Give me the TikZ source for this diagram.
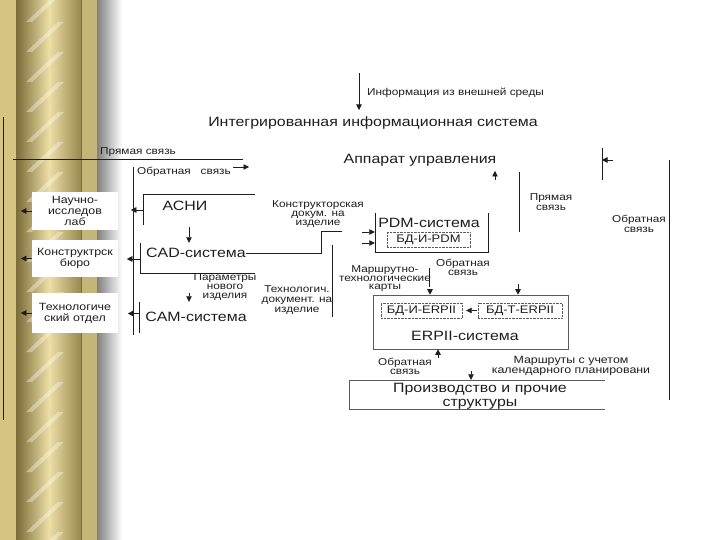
\documentclass[tikz,border=0pt]{standalone}
\usepackage{fontspec}
\setmainfont{Liberation Sans}[FakeStretch=1.18]
\usepackage{tikz}
\usetikzlibrary{arrows.meta, positioning}
\definecolor{gold}{HTML}{D6C582}
\definecolor{golddark}{HTML}{7E6E3C}
\definecolor{goldlight}{HTML}{ECDEA4}
\definecolor{ink}{HTML}{1E1E1E}
\definecolor{frame}{HTML}{5A5A5A}

\begin{document}
\begin{tikzpicture}[x=1pt, y=-1pt,
  sys/.style={font=\fontsize{13.5}{15}\selectfont, inner sep=0pt, text=ink},
  lbl/.style={font=\fontsize{10}{10}\selectfont, align=center, inner sep=0pt, text=ink},
  dept/.style={fill=white, minimum width=86pt, align=center, inner sep=0pt,
    font=\fontsize{10.5}{11}\selectfont, text=ink},
  box/.style={minimum width=#1, inner sep=0pt},
  dbbox/.style={draw=frame, densely dotted, minimum height=15pt, inner sep=0pt,
    font=\fontsize{11}{12}\selectfont, text=ink},
  ln/.style={line width=0.6pt, draw=ink},
  frameln/.style={line width=0.6pt, draw=frame},
  arr/.style={ln, -{Triangle[length=5.5pt, width=5.5pt]}}]
\useasboundingbox (0,0) rectangle (720,540);
\fill[white] (0,0) rectangle (720,540);

% gold column at the left
\fill[gold] (0,0) rectangle (17,540);
\shade[left color=golddark, right color=golddark!70!gold, middle color=goldlight] (17,0) rectangle (81,540);
\begin{scope}
  \clip (17,0) rectangle (81,540);
  \foreach \yy in {0,30,...,570}
    \fill[white, opacity=0.35] (26,\yy+22) -- (32,\yy+22) -- (64,\yy-8) -- (58,\yy-8) -- cycle;
\end{scope}
\fill[gold!92!black] (82,0) rectangle (97,540);
\draw[golddark, line width=1pt] (16,0) -- (16,540) (81.5,0) -- (81.5,540);
\shade[left color=black!50, right color=white] (97,0) rectangle (122,540);

% free ends of the connectors
\coordinate (lt) at (3,117);      \coordinate (lb) at (3,420);
\coordinate (pryamL) at (13,159); \coordinate (pryamR) at (243,159);
\coordinate (obrT) at (133,167);  \coordinate (obrB) at (133,335);
\coordinate (fbA) at (233,167);   \coordinate (fbB) at (249,167);
\coordinate (infoT) at (359,73);  \coordinate (infoB) at (359,110);
\coordinate (asniD) at (189,227); \coordinate (parD) at (189,293);
\coordinate (kdA) at (321,251);   \coordinate (kdB) at (342,231);
\coordinate (tdT) at (332,245);   \coordinate (tdB) at (332,317);
\coordinate (pa1) at (362,232);   \coordinate (pa2) at (362,243);
\coordinate (mkT) at (429,268);   \coordinate (mkB) at (429,287);
\coordinate (mkD) at (430,293);
\coordinate (upA) at (495,180);   \coordinate (upB) at (495,171);
\coordinate (psT) at (519,172);   \coordinate (psB) at (519,232);
\coordinate (psD) at (518,284);
\coordinate (rfT) at (602,148);   \coordinate (rfB) at (602,180);
\coordinate (rfA) at (613,160);
\coordinate (roT) at (669,160);   \coordinate (roB) at (669,400);
\coordinate (erpU) at (438,358);  \coordinate (prD) at (471,371);

% titles
\node[lbl, anchor=west] (info) at (367,93) {Информация из внешней среды};
\node[sys] (iis) at (373,123) {Интегрированная информационная система};
\node[sys] (apparat) at (420,160) {Аппарат управления};
\node[lbl] (pryam1) at (138,152) {Прямая связь};
\node[lbl, anchor=west] (obr1) at (137,172) {Обратная \ \ связь};

% departments
\node[dept, minimum height=38pt] (nil) at (75,211) {Научно-\\исследов\\лаб};
\node[dept, minimum height=37pt] (kb) at (75,258.5) {Конструктрск\\бюро};
\node[dept, minimum height=40pt] (tehotd) at (75,313) {Технологиче\\ский отдел};

% systems
\node[box=112pt, minimum height=30pt] (asnibox) at (199,210) {};
\node[sys] (asni) at (185,206) {АСНИ};
\node[box=115pt, minimum height=30pt] (cadbox) at (197.5,258) {};
\node[sys] (cad) at (196,253) {CAD-система};
\node[box=116pt, minimum height=31pt] (cambox) at (197,317.5) {};
\node[sys] (cam) at (196,317) {CAM-система};
\node[lbl, font=\fontsize{10}{9}\selectfont] (params) at (225,287) {Параметры\\нового\\изделия};
\node[lbl, font=\fontsize{10}{9}\selectfont] (kdoc) at (318,214) {Конструкторская\\докум. на\\изделие};
\node[lbl] (tdoc) at (297,300) {Технологич.\\документ. на\\изделие};

\node[box=113pt, minimum height=39pt] (pdmbox) at (431.5,232.5) {};
\node[sys] (pdm) at (429,223) {PDM-система};
\node[dbbox, minimum width=83pt] (bdpdm) at (428.5,240) {БД-И-PDM};
\node[lbl, font=\fontsize{10}{9}\selectfont] (obr2) at (463,267) {Обратная\\связь};
\node[lbl, font=\fontsize{10}{8.5}\selectfont] (mtk) at (385,279) {Маршрутно-\\технологические\\карты};

\node[draw=frame, line width=0.6pt, box=195pt, minimum height=54pt] (erp) at (470.5,322) {};
\node[dbbox, minimum width=81pt] (bdi) at (421.5,310.5) {БД-И-ERPII};
\node[dbbox, minimum width=84pt] (bdt) at (520,310.5) {БД-Т-ERPII};
\node[sys] (erptxt) at (465,336) {ERPII-система};
\node[lbl, font=\fontsize{10}{9}\selectfont] (obr4) at (405,366) {Обратная\\связь};
\node[lbl, font=\fontsize{10.5}{10}\selectfont] (route) at (571,366) {Маршруты с учетом\\календарного планировани};
\node[lbl] (pryam2) at (551,202) {Прямая\\связь};
\node[lbl] (obr3) at (639,224) {Обратная\\связь};

\node[box=256pt, minimum height=29pt] (prodbox) at (477,394.5) {};
\node[sys, align=center, font=\fontsize{13.5}{14}\selectfont] (prod) at (480,396) {Производство и прочие\\структуры};

% frames open on some sides
\draw[ln] (asnibox.north east) -- (asnibox.north west) -- (asnibox.south west);
\draw[ln] (cadbox.north west) -- (cadbox.south west) -- (cadbox.south east);
\draw[ln] (cambox.north west) -- (cambox.south west);
\draw[ln] (pdmbox.north west) -- (pdmbox.south west) -- (pdmbox.south east) -- (pdmbox.north east);
\draw[frameln] (prodbox.north east) -- (prodbox.north west) -- (prodbox.south west) -- (prodbox.south east);

% plain lines
\draw[ln] (lt) -- (lb);
\draw[ln] (pryamL) -- (pryamR);
\draw[ln] (obrT) -- (obrB);
\draw[ln] (tdT) -- (tdB);
\draw[ln] (mkT) -- (mkB);
\draw[ln] (psT) -- (psB);
\draw[ln] (rfT) -- (rfB);
\draw[ln] (roT) -- (roB);
\draw[ln] (cad.east) -- (cad.east -| kdA) |- (kdB);

% arrows
\foreach \d in {nil,kb,tehotd}
  \draw[arr] (\d.west) -- ([xshift=-11pt]\d.west);
\draw[arr] (asnibox.west) -- ([xshift=-12pt]asnibox.west);
\draw[arr] ([yshift=-1pt]cadbox.west) -- ([xshift=-13pt, yshift=-1pt]cadbox.west);
\draw[arr] ([yshift=4pt]cambox.west) -- ([xshift=-11pt, yshift=4pt]cambox.west);
\draw[arr] (fbA) -- (fbB);
\draw[arr] (infoT) -- (infoB);
\draw[arr] (asniD) -- (asniD |- cadbox.north);
\draw[arr] (parD) -- (parD |- cambox.north);
\draw[arr] (pa1) -- (pa1 -| pdmbox.west);
\draw[arr] (pa2) -- (pa2 -| pdmbox.west);
\draw[arr] (mkD) -- (mkD |- erp.north);
\draw[arr] (psD) -- (psD |- erp.north);
\draw[arr] (upA) -- (upB);
\draw[arr] (rfA) -- (rfA -| rfT);
\draw[arr, shorten <=1pt, shorten >=4pt] (bdt.west) -- (bdi.east);
\draw[arr] (erpU) -- (erpU |- erp.south);
\draw[arr] (prD) -- (prD |- prodbox.north);
\end{tikzpicture}
\end{document}
